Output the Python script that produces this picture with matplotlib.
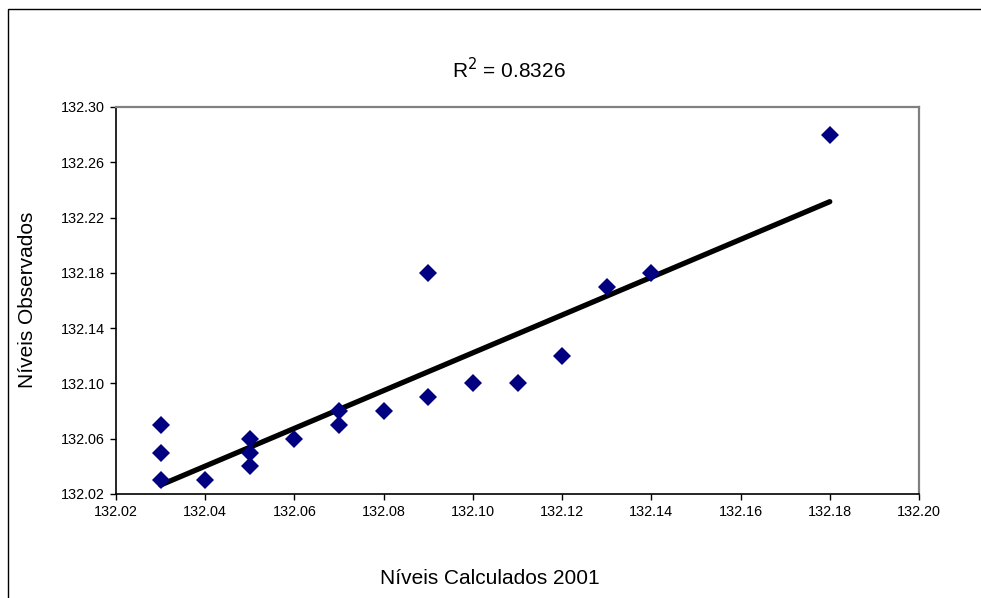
import matplotlib
matplotlib.use("Agg")
import matplotlib.pyplot as plt
from matplotlib.patches import Rectangle

# Níveis calculados (x) vs observados (y)
calc = [132.03, 132.03, 132.03, 132.04, 132.05, 132.05, 132.05, 132.06,
        132.07, 132.07, 132.08, 132.09, 132.09, 132.10, 132.11, 132.12,
        132.13, 132.14, 132.18]
obs = [132.07, 132.05, 132.03, 132.03, 132.06, 132.05, 132.04, 132.06,
       132.08, 132.07, 132.08, 132.18, 132.09, 132.10, 132.10, 132.12,
       132.17, 132.18, 132.28]

# linear trendline endpoints
trend_x = [132.03, 132.18]
trend_y = [132.0265, 132.2315]
r2_text = "R$^2$ = 0.8326"

x_ticks = [132.02, 132.04, 132.06, 132.08, 132.10, 132.12, 132.14, 132.16, 132.18, 132.20]
y_ticks = [132.02, 132.06, 132.10, 132.14, 132.18, 132.22, 132.26, 132.30]

plt.rcParams["font.family"] = ["Liberation Sans", "DejaVu Sans"]

fig = plt.figure(figsize=(9.81, 5.98), dpi=100)
fig.patches.append(Rectangle((8 / 981, -0.1), 1.2, 1 - 9 / 598 + 0.1,
                             transform=fig.transFigure, fill=False,
                             edgecolor="black", linewidth=1.0))

ax = fig.add_axes([116 / 981, 104 / 598, 803 / 981, 387 / 598])
ax.plot(trend_x, trend_y, color="black", linewidth=3.8, solid_capstyle="round", zorder=2)
ax.plot(calc, obs, linestyle="none", marker="D", markersize=9.6,
        color="#000080", markeredgewidth=0, zorder=3)

ax.set_xlim(132.02, 132.20)
ax.set_ylim(132.02, 132.30)
ax.set_xticks(x_ticks)
ax.set_yticks(y_ticks)
ax.set_xticklabels([f"{v:.2f}" for v in x_ticks])
ax.set_yticklabels([f"{v:.2f}" for v in y_ticks])
ax.tick_params(direction="out", length=4, width=1, labelsize=10.4, pad=4)

for side in ("top", "right"):
    ax.spines[side].set_color("#808080")
    ax.spines[side].set_linewidth(1.6)
for side in ("left", "bottom"):
    ax.spines[side].set_color("black")
    ax.spines[side].set_linewidth(1.2)

fig.text(509 / 981, 1 - 70 / 598, r2_text, ha="center", va="center", fontsize=15)
fig.text(490 / 981, 1 - 578 / 598, "Níveis Calculados 2001", ha="center", va="center", fontsize=15)
fig.text(28 / 981, 1 - 300 / 598, "Níveis Observados", ha="center", va="center",
         rotation=90, fontsize=15)

fig.savefig("out.png", dpi=100)
